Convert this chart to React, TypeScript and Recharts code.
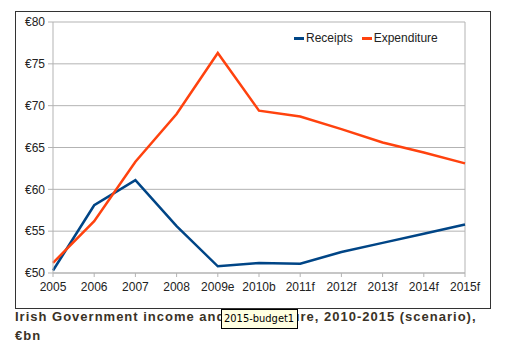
import React from "react";
import { LineChart, Line, XAxis, YAxis, CartesianGrid, ReferenceLine } from "recharts";

const years = ["2005", "2006", "2007", "2008", "2009e", "2010b", "2011f", "2012f", "2013f", "2014f", "2015f"];
const receipts = [50.3, 58.1, 61.1, 55.6, 50.8, 51.2, 51.1, 52.5, 53.6, 54.7, 55.8];
const expenditure = [51.2, 56.2, 63.3, 69.0, 76.3, 69.4, 68.7, 67.2, 65.6, 64.4, 63.1];
const yTicks = [50, 55, 60, 65, 70, 75, 80];
const seriesNames = ["Receipts", "Expenditure"];
const seriesColors = ["#004586", "#ff420e"];

const data = years.map((y, i) => ({ year: y, Receipts: receipts[i], Expenditure: expenditure[i] }));

const FONT = "'Liberation Sans', Arial, sans-serif";

export default function App() {
  return (
    <div style={{ position: "absolute", left: 0, top: 0, width: 509, height: 350, background: "#fff" }}>
      <div
        style={{
          position: "absolute",
          left: 15,
          top: 11,
          width: 476,
          height: 298,
          border: "1px solid #333",
          boxSizing: "border-box",
        }}
      />
      <div style={{ position: "absolute", left: 15, top: 11 }}>
        <LineChart width={475} height={297} data={data} margin={{ top: 11, right: 25, left: 0, bottom: 0 }}>
          <CartesianGrid vertical={false} stroke="#b3b3b3" />
          <XAxis
            dataKey="year"
            interval={0}
            height={35}
            tickSize={4}
            tickMargin={5}
            stroke="#b3b3b3"
            tick={{ fill: "#222", fontSize: 12, fontFamily: FONT }}
          />
          <YAxis
            width={38}
            domain={[50, 80]}
            ticks={yTicks}
            tickFormatter={(v: number) => "€" + v}
            tickSize={5}
            tickMargin={3}
            stroke="#b3b3b3"
            tick={{ fill: "#222", fontSize: 12, fontFamily: FONT }}
          />
          <ReferenceLine x="2015f" stroke="#b3b3b3" />
          <Line
            type="linear"
            dataKey="Receipts"
            stroke={seriesColors[0]}
            strokeWidth={2.5}
            dot={false}
            isAnimationActive={false}
          />
          <Line
            type="linear"
            dataKey="Expenditure"
            stroke={seriesColors[1]}
            strokeWidth={2.5}
            dot={false}
            isAnimationActive={false}
          />
        </LineChart>
      </div>
      <div
        style={{
          position: "absolute",
          left: 294,
          top: 31,
          display: "flex",
          alignItems: "center",
          fontFamily: FONT,
          fontSize: 12,
          lineHeight: "14px",
          color: "#222",
        }}
      >
        {seriesNames.map((n, i) => (
          <div key={n} style={{ display: "flex", alignItems: "center", marginRight: i === 0 ? 9 : 0 }}>
            <span style={{ display: "inline-block", width: 10, height: 3, background: seriesColors[i], marginRight: 2 }} />
            <span>{n}</span>
          </div>
        ))}
      </div>
      <div
        style={{
          position: "absolute",
          left: 15,
          top: 307,
          fontFamily: FONT,
          fontWeight: "bold",
          fontSize: 13,
          letterSpacing: 1,
          lineHeight: "19px",
          color: "#3a3226",
          whiteSpace: "nowrap",
        }}
      >
        <div>Irish Government income and expenditure, 2010-2015 (scenario),</div>
        <div>€bn</div>
      </div>
      <div
        style={{
          position: "absolute",
          left: 221,
          top: 309,
          width: 77,
          height: 20,
          boxSizing: "border-box",
          background: "#ffffe1",
          border: "1px solid #000",
          fontFamily: "'DejaVu Sans Condensed', 'DejaVu Sans', sans-serif",
          fontSize: 11,
          lineHeight: "18px",
          color: "#000",
          paddingLeft: 2,
          whiteSpace: "nowrap",
        }}
      >
        2015-budget1
      </div>
    </div>
  );
}
